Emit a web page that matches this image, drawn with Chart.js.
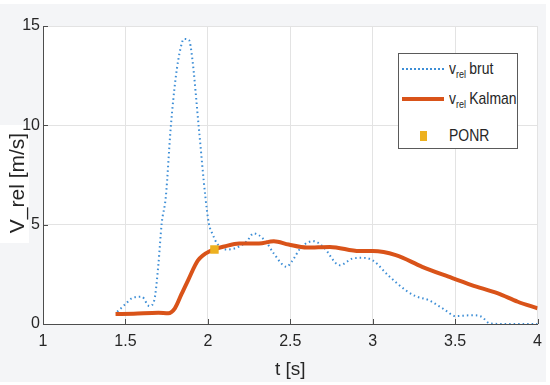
<!DOCTYPE html>
<html>
<head>
<meta charset="utf-8">
<script src="https://cdn.jsdelivr.net/npm/chart.js@4.4.1/dist/chart.umd.min.js"></script>
<style>
  html, body { margin: 0; padding: 0; background: #fff; }
  #wrap { position: relative; width: 550px; height: 385px; }
  #panel { position: absolute; left: 0; top: 4px; width: 546px; height: 378px; background: #f4f5f7; }
  #chart { position: absolute; left: 0; top: 0; }
  #legend {
    position: absolute; left: 398px; top: 53px; width: 120px; height: 96px;
    border: 1px solid #5a5a5a; background: #fff; box-sizing: border-box;
    font-family: "Liberation Sans", sans-serif; font-size: 17px; color: #262626;
  }
  .row { position: absolute; left: 0; height: 20px; display: flex; align-items: center; white-space: nowrap; }
  .sample { width: 42px; margin-left: 3px; margin-right: 5px; flex: none; }
  .txt { display: inline-block; transform: scaleX(0.82); transform-origin: left center; }
  sub { font-size: 11px; vertical-align: -4px; margin-right: 4px; }
</style>
</head>
<body>
<div id="wrap">
  <div id="panel"></div>
  <canvas id="chart" width="550" height="385"></canvas>
  <div id="legend">
    <div class="row" style="top:5px"><div class="sample" style="border-top:2px dotted #3d8ed6"></div><span class="txt">v<sub>rel</sub>brut</span></div>
    <div class="row" style="top:35px"><div class="sample" style="border-top:4px solid #d95319"></div><span class="txt">v<sub>rel</sub>Kalman</span></div>
    <div class="row" style="top:72px"><div class="sample" style="display:flex;justify-content:center"><div style="width:7px;height:10px;background:#edb120"></div></div><span class="txt">PONR</span></div>
  </div>
</div>
<script>
// raw relative speed (dotted)
const tBrut = [1.45, 1.50, 1.54, 1.60, 1.645, 1.675, 1.70, 1.72, 1.745, 1.775, 1.805, 1.835, 1.855, 1.885, 1.905, 1.945, 1.985, 2.006, 2.03, 2.056, 2.12, 2.19, 2.24, 2.277, 2.347, 2.40, 2.478, 2.508, 2.568, 2.64, 2.70, 2.80, 2.88, 2.94, 3.00, 3.10, 3.20, 3.26, 3.34, 3.44, 3.50, 3.60, 3.66, 3.71, 3.80, 3.90, 4.00];
const vBrut = [0.62, 1.0, 1.3, 1.37, 0.9, 1.2, 3.0, 5.06, 6.4, 9.9, 12.4, 13.9, 14.35, 14.3, 13.4, 9.9, 6.4, 5.06, 4.5, 4.05, 3.75, 3.9, 4.2, 4.56, 4.2, 3.55, 2.88, 3.13, 3.88, 4.17, 3.88, 2.96, 3.3, 3.33, 3.2, 2.4, 1.7, 1.4, 1.2, 0.7, 0.4, 0.44, 0.37, 0.03, 0, 0, 0];

// Kalman filtered speed
const tKalman = [1.44, 1.55, 1.70, 1.76, 1.80, 1.84, 1.88, 1.94, 2.02, 2.10, 2.19, 2.31, 2.40, 2.49, 2.60, 2.74, 2.92, 3.00, 3.14, 3.30, 3.46, 3.60, 3.76, 3.88, 4.00];
const vKalman = [0.5, 0.52, 0.57, 0.54, 0.79, 1.5, 2.2, 3.2, 3.7, 3.9, 4.05, 4.05, 4.17, 4.0, 3.85, 3.88, 3.67, 3.67, 3.47, 2.88, 2.38, 1.96, 1.54, 1.12, 0.79];

// point of no return
const ponrT = [2.04];
const ponrV = [3.75];

const xTicks = [1, 1.5, 2, 2.5, 3, 3.5, 4];
const yTicks = [0, 5, 10, 15];
const yTitle = 'V_rel [m/s]';

const zip = (xs, ys) => xs.map((x, i) => ({ x, y: ys[i] }));

const tickFont = { family: "'Liberation Sans', sans-serif", size: 16 };

const plotBg = {
    id: 'plotBg',
    beforeDraw(chart) {
        const { ctx, chartArea: a } = chart;
        ctx.save();
        ctx.fillStyle = '#ffffff';
        ctx.fillRect(a.left, a.top, a.right - a.left, a.bottom - a.top);
        // white patch behind the y title
        const cy = (a.top + a.bottom) / 2 + 8;
        ctx.fillRect(0, cy - 58, 29, 118);
        ctx.restore();
    },
    afterDraw(chart) {
        const { ctx, chartArea: a } = chart;
        const cy = (a.top + a.bottom) / 2 + 8;
        ctx.save();
        ctx.translate(18, cy);
        ctx.rotate(-Math.PI / 2);
        ctx.font = "21px 'Liberation Sans', sans-serif";
        ctx.fillStyle = '#262626';
        ctx.textAlign = 'center';
        ctx.textBaseline = 'middle';
        ctx.fillText(yTitle, 0, 0);
        ctx.restore();
    },
    afterDatasetsDraw(chart) {
        // inward tick marks like the original
        const { ctx, chartArea: a, scales } = chart;
        ctx.save();
        ctx.strokeStyle = '#4d4d4d';
        ctx.lineWidth = 1;
        ctx.beginPath();
        xTicks.forEach(v => {
            const px = Math.round(scales.x.getPixelForValue(v)) + 0.5;
            ctx.moveTo(px, a.bottom); ctx.lineTo(px, a.bottom - 5);
        });
        yTicks.forEach(v => {
            const py = Math.round(scales.y.getPixelForValue(v)) + 0.5;
            ctx.moveTo(a.left, py); ctx.lineTo(a.left + 5, py);
        });
        ctx.stroke();
        ctx.restore();
    }
};

const data = {
    datasets: [{
        label: 'brut',
        data: zip(tBrut, vBrut),
        borderColor: '#3d8ed6',
        borderWidth: 2,
        borderDash: [1.5, 3],
        pointRadius: 0,
        showLine: true,
        cubicInterpolationMode: 'monotone',
        order: 3
    }, {
        label: 'Kalman',
        data: zip(tKalman, vKalman),
        borderColor: '#d95319',
        borderWidth: 4,
        pointRadius: 0,
        showLine: true,
        cubicInterpolationMode: 'monotone',
        order: 2
    }, {
        label: 'PONR',
        data: zip(ponrT, ponrV),
        showLine: false,
        pointStyle: 'rect',
        pointRadius: 6,
        backgroundColor: '#edb120',
        borderColor: '#edb120',
        borderWidth: 0,
        order: 1
    }]
};

const options = {
    animation: false,
    responsive: false,
    layout: { padding: { top: 26, right: 8, left: 0, bottom: 0 } },
    plugins: {
        legend: { display: false },
        tooltip: { enabled: false }
    },
    scales: {
        x: {
            type: 'linear',
            min: 1, max: 4,
            afterBuildTicks: s => { s.ticks = xTicks.map(v => ({ value: v })); },
            afterFit: s => { s.height = 61; },
            ticks: { font: tickFont, color: '#262626', padding: 8, maxRotation: 0, callback: v => String(v) },
            grid: { color: '#e3e3e3', drawTicks: false },
            border: { color: '#4d4d4d' },
            title: { display: true, text: 't [s]', font: { family: "'Liberation Sans', sans-serif", size: 19 }, color: '#262626', padding: { top: 0 } }
        },
        y: {
            min: 0, max: 15,
            afterBuildTicks: s => { s.ticks = yTicks.map(v => ({ value: v })); },
            afterFit: s => { s.width = 43; },
            ticks: { font: tickFont, color: '#262626', padding: 3, callback: v => String(v) },
            grid: { color: '#e3e3e3', drawTicks: false },
            border: { color: '#4d4d4d' },
            title: { display: false }
        }
    }
};

new Chart(document.getElementById('chart'), {
    type: 'scatter',
    data,
    options,
    plugins: [plotBg]
});
</script>
</body>
</html>
